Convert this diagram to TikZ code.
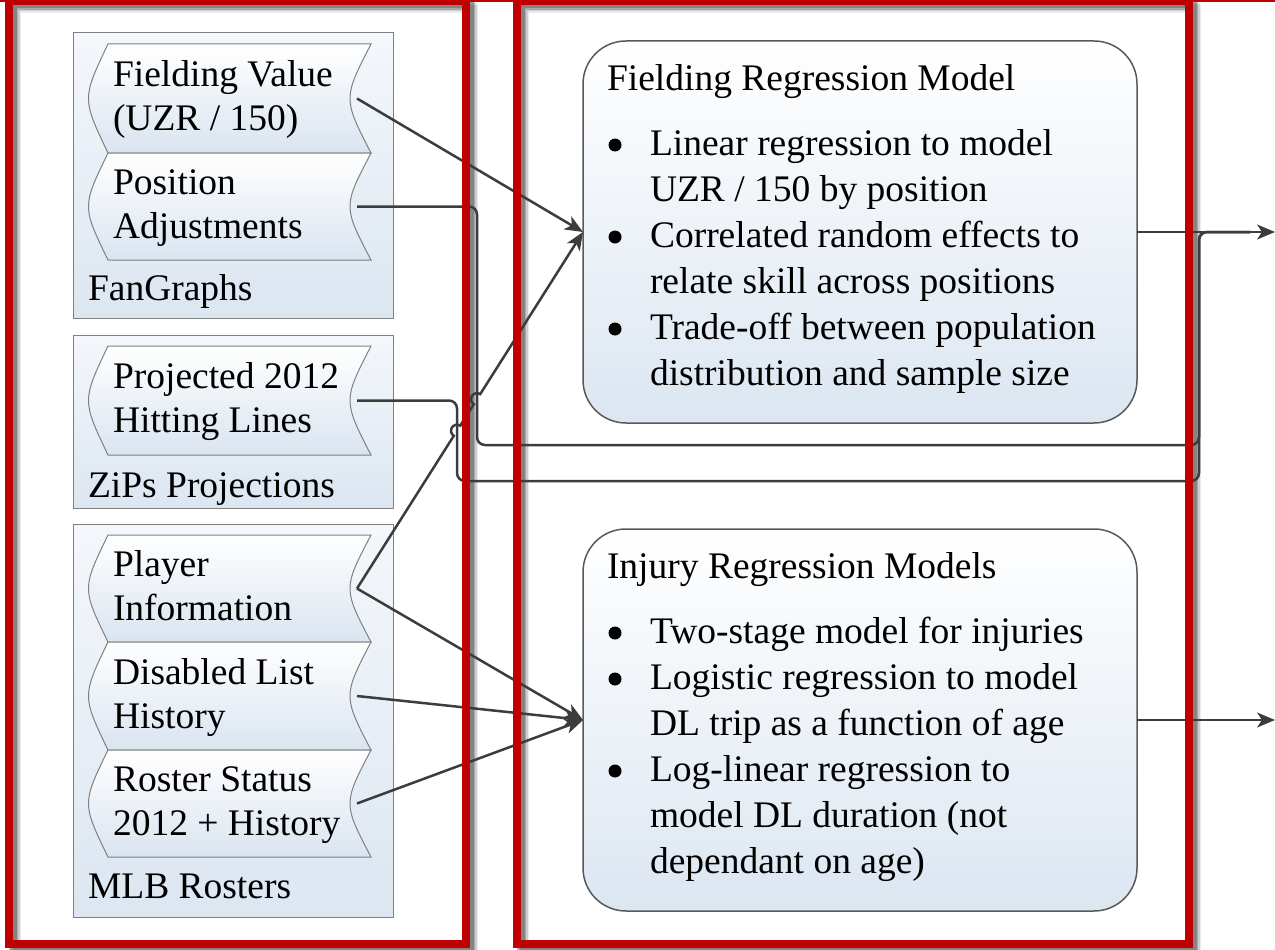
\documentclass[tikz,border=0pt]{standalone}
\usepackage{fontspec}
\setmainfont{Liberation Serif}
\usetikzlibrary{arrows.meta,calc}
\definecolor{redb}{RGB}{192,0,0}
\definecolor{connc}{RGB}{60,60,60}
\definecolor{cborder}{RGB}{128,128,128}
\definecolor{pborder}{RGB}{89,89,89}
\definecolor{cTop}{RGB}{244,247,251}
\definecolor{cBot}{RGB}{220,230,241}
\definecolor{tBot}{RGB}{218,228,240}
\definecolor{pBot}{RGB}{220,230,241}
\newcommand\tapeitem[5]{%
  \pgfmathsetmacro\tmid{(#2+#3)/2}%
  \path[tapefill] (108,#2) -- (371,#2) .. controls (343,\tmid) .. (371,#3) -- (108,#3) .. controls (82,\tmid) .. (108,#2) -- cycle;
  \node[minimum width=262, minimum height={#3-#2}] (#1) at (226,\tmid) {};
  \node[txt] (#1-a) at (113,\tmid-12) {#4};
  \node[txt] (#1-b) at (113,\tmid+32) {#5};
}
\begin{document}
\begin{tikzpicture}[x=1pt,y=-1pt,
 every node/.style={inner sep=0pt, outer sep=0pt},
 txt/.style={anchor=base west, font=\fontsize{37.5}{44}\selectfont, text=black},
 bul/.style={circle, fill=black, minimum size=13pt},
 cont/.style={draw=cborder, line width=1pt, top color=cTop, bottom color=cBot, minimum width=320, minimum height=#1},
 tapefill/.style={draw=cborder, line width=1pt, top color=white, bottom color=tBot},
 procbox/.style={draw=pborder, line width=1.5pt, rounded corners=43pt, top color=white, bottom color=pBot, minimum width=554, minimum height=382},
 myconn/.style={draw=connc, line width=2.5pt},
 arr/.style={-{Stealth[length=18pt,width=15pt,inset=5pt]}},
 redframe/.style={draw=redb, line width=8pt},
 fshadow/.style={draw=black, line width=8pt}
]
\useasboundingbox (0,0) rectangle (1275,950);
\clip (0,0) rectangle (1275,950);

% shadows of red frames
\foreach \d/\o in {8/0.08, 6.5/0.12, 5/0.18, 3.5/0.22}{
  \draw[fshadow, opacity=\o] (9+\d,1+\d) rectangle (466+\d,944+\d);
  \draw[fshadow, opacity=\o] (517+\d,1+\d) rectangle (1189+\d,944+\d);
}

% containers
\node[cont=285] (fg) at (233,175.5) {};
\node[cont=173] (zp) at (233,421.5) {};
\node[cont=393] (mlb) at (233,720.5) {};
\node[txt] (fg-l) at (88,300) {FanGraphs};
\node[txt] (zp-l) at (88,497) {ZiPs Projections};
\node[txt] (mlb-l) at (88,898) {MLB Rosters};

% tapes
\tapeitem{fv}{44}{153}{Fielding Value}{(UZR / 150)}
\tapeitem{pa}{153}{260}{Position}{Adjustments}
\tapeitem{ph}{346}{455}{Projected 2012}{Hitting Lines}
\tapeitem{pi}{535}{642}{Player}{Information}
\tapeitem{dl}{642}{750}{Disabled List}{History}
\tapeitem{rs}{750}{857}{Roster Status}{2012 + History}

% process boxes
\node[procbox] (frm) at (860,232) {};
\node[procbox] (inj) at (860,720) {};

\node[txt] (frm-t) at (607,91) {Fielding Regression Model};
\node[bul] (frm-b1) at (615,145) {};
\node[txt] (frm-1) at (650,155) {Linear regression to model};
\node[txt] (frm-2) at (650,201) {UZR / 150 by position};
\node[bul] (frm-b2) at (615,237) {};
\node[txt] (frm-3) at (650,247) {Correlated random effects to};
\node[txt] (frm-4) at (650,293) {relate skill across positions};
\node[bul] (frm-b3) at (615,329) {};
\node[txt] (frm-5) at (650,339) {Trade-off between population};
\node[txt] (frm-6) at (650,385) {distribution and sample size};

\node[txt] (inj-t) at (607,578) {Injury Regression Models};
\node[bul] (inj-b1) at (615,633) {};
\node[txt] (inj-1) at (650,643) {Two-stage model for injuries};
\node[bul] (inj-b2) at (615,679) {};
\node[txt] (inj-2) at (650,689) {Logistic regression to model};
\node[txt] (inj-3) at (650,735) {DL trip as a function of age};
\node[bul] (inj-b3) at (615,771) {};
\node[txt] (inj-4) at (650,781) {Log-linear regression to};
\node[txt] (inj-5) at (650,827) {model DL duration (not};
\node[txt] (inj-6) at (650,873) {dependant on age)};

% outputs
\coordinate (out1) at (1275,232);
\coordinate (out2) at (1275,720);

% connectors
\draw[myconn, arr] (fv.east) -- (frm.west);
\draw[myconn, arr] (pi.east) -- ($(pi.east)!0.4283!(frm.west)$)
   arc[start angle=237.63, end angle=57.63, radius=6pt]
   -- ($(pi.east)!0.5168!(frm.west)$)
   arc[start angle=237.63, end angle=57.63, radius=6pt]
   -- (frm.west);
\draw[myconn, rounded corners=8pt] (pa.east) -- (477,206.5) -- (477,445) -- (1199,445) -- (1199,232) -- (1250,232);
\draw[myconn, rounded corners=8pt] (ph.east) -- (457,400.5) -- (457,481) -- (1199,481) -- (1199,232) -- (1250,232);
\draw[myconn, arr] (frm.east) -- (out1);
\draw[myconn, arr] (pi.east) -- (inj.west);
\draw[myconn, arr] (dl.east) -- (inj.west);
\draw[myconn, arr] (rs.east) -- (inj.west);
\draw[myconn, arr] (inj.east) -- (out2);

% red frames
\fill[redb] (0,0) rectangle (1275,2.5);
\draw[redframe] (9,1) rectangle (466,944);
\draw[redframe] (517,1) rectangle (1189,944);
\end{tikzpicture}
\end{document}
